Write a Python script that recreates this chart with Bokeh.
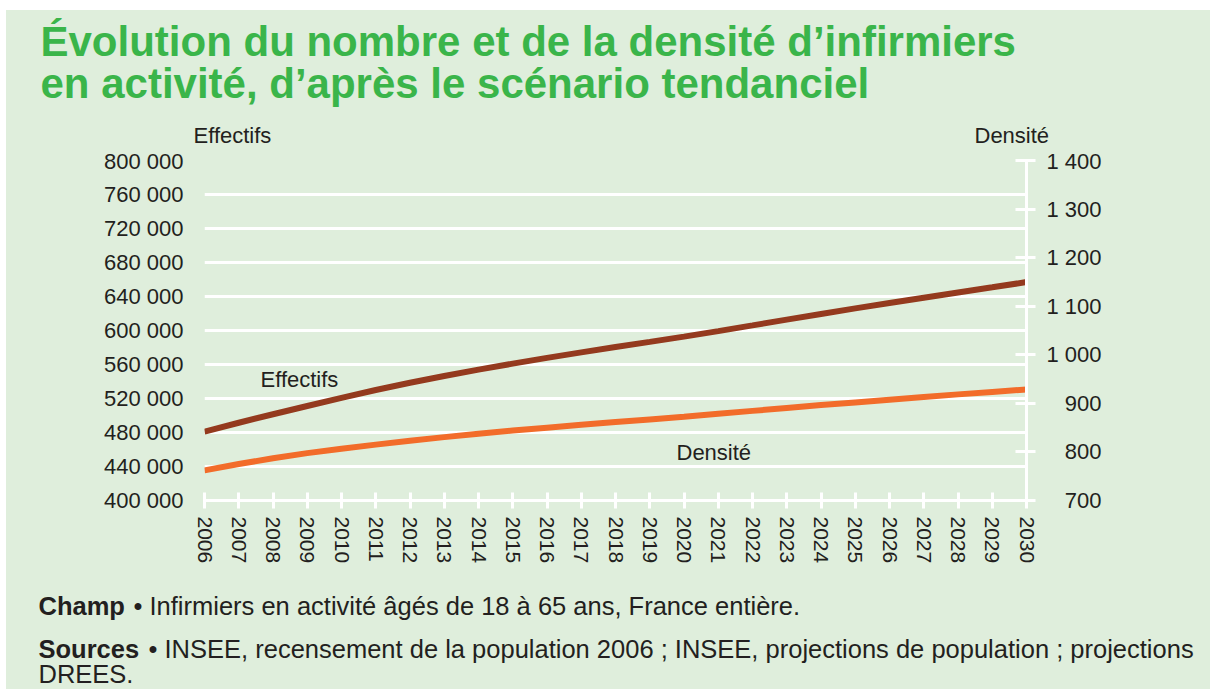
from bokeh.plotting import figure
from bokeh.layouts import column
from bokeh.models import (LinearAxis, Range1d, SingleIntervalTicker, CustomJSTickFormatter, Label)
from bokeh.core.properties import value
from bokeh.embed import file_html
from bokeh.resources import INLINE

# ---- data ----
years = list(range(2006, 2031))
effectifs = [481000, 491500, 501500, 511200, 520800, 530000, 538500, 546500, 554000,
             561000, 567800, 574300, 580500, 586600, 592800, 599300, 606000, 612800,
             619500, 626000, 632300, 638500, 644700, 650800, 657000]
densite = [762, 775, 787, 797.5, 806.5, 815, 823, 830.5, 837.5, 844, 850, 856, 861.5,
           867, 872.5, 878.5, 884.5, 890.5, 896.5, 902, 907.5, 913, 918.5, 923.5, 928.5]
left_ticks = (400000, 800000, 40000)
right_ticks = (700, 1400, 100)
title_lines = ["Évolution du nombre et de la densité d’infirmiers",
               "en activité, d’après le scénario tendanciel"]
left_title = "Effectifs"
right_title = "Densité"
series_names = ["Effectifs", "Densité"]
note_champ = ("Champ", "• Infirmiers en activité âgés de 18 à 65 ans, France entière.")
note_sources = ("Sources", "• INSEE, recensement de la population 2006 ; INSEE, projections de population ; projections")
note_sources2 = "DREES."

BG = "#dfeedc"
TXT = "#231f20"
GREEN = "#3ab54a"
C_EFF = "#943a1e"
C_DEN = "#f26c2a"
FONT = "Liberation Sans"

OX, OY = 6, 10          # page position of the green panel
W = 1204
H_TOP, H_MAIN, H_FOOT = 138, 432, 109
BASE_K = 0.4            # baseline correction (fraction of font size)


def no_align(f):
    try:
        f.frame_align = False
    except Exception:
        pass


def text_panel(h):
    f = figure(width=W, height=h, output_backend="svg", toolbar_location=None,
               x_range=Range1d(0, W), y_range=Range1d(h, 0),
               x_axis_type=None, y_axis_type=None, min_border=0,
               background_fill_color=BG, border_fill_color=BG, outline_line_color=None)
    f.grid.visible = False
    no_align(f)
    return f


def put(f, top, texts, xs, ys, size, color=TXT, bold=False):
    f.text(x=[x - OX for x in xs], y=[y - top - BASE_K * size for y in ys], text=texts,
           text_font=value(FONT), text_font_size=value(f"{size}px"), text_color=color,
           text_font_style="bold" if bold else "normal",
           text_baseline="alphabetic", text_align="left")

# ---------- top panel: title and axis titles ----------
top = text_panel(H_TOP)
t0 = OY
put(top, t0, title_lines, [40, 40], [58, 100], 42, color=GREEN, bold=True)
put(top, t0, [left_title, right_title], [193, 974], [144, 144], 22)

# ---------- main chart ----------
FL, FR, FT, FB = 204, 1026, 160, 500   # frame edges in page pixels
m0 = OY + H_TOP
p = figure(width=W, height=H_MAIN, output_backend="svg", toolbar_location=None,
           x_range=Range1d(years[0], years[-1]),
           y_range=Range1d(left_ticks[0], left_ticks[1]),
           min_border_left=FL - OX, min_border_right=OX + W - FR,
           min_border_top=FT - m0, min_border_bottom=m0 + H_MAIN - FB,
           background_fill_color=BG, border_fill_color=BG, outline_line_color=None)
no_align(p)
p.extra_y_ranges = {"dens": Range1d(right_ticks[0], right_ticks[1])}

fmt = CustomJSTickFormatter(code="return tick.toFixed(0).replace(/\\B(?=(\\d{3})+(?!\\d))/g, ' ');")
fmt_r = CustomJSTickFormatter(code="""
var s = tick.toFixed(0).replace(/\\B(?=(\\d{3})+(?!\\d))/g, ' ');
return s.length < 5 ? '\\u2007 ' + s : s;""")

p.yaxis.ticker = SingleIntervalTicker(interval=left_ticks[2])
p.yaxis.formatter = fmt
p.yaxis.axis_line_color = None
p.yaxis.major_tick_line_color = None
p.yaxis.minor_tick_line_color = None
p.yaxis.major_tick_in = 0
p.yaxis.major_tick_out = 0
p.yaxis.major_label_standoff = 17
p.yaxis.major_label_text_font = FONT
p.yaxis.major_label_text_font_size = "22px"
p.yaxis.major_label_text_color = TXT

p.xaxis.ticker = SingleIntervalTicker(interval=1)
p.xaxis.major_label_orientation = "vertical"
p.xaxis.axis_line_color = "white"
p.xaxis.axis_line_width = 3
p.xaxis.major_tick_line_color = "white"
p.xaxis.major_tick_line_width = 3
p.xaxis.major_tick_in = 8
p.xaxis.major_tick_out = 8
p.xaxis.minor_tick_line_color = None
p.xaxis.major_label_standoff = 8
p.xaxis.major_label_text_font = FONT
p.xaxis.major_label_text_font_size = "21px"
p.xaxis.major_label_text_color = TXT

ra = LinearAxis(y_range_name="dens", ticker=SingleIntervalTicker(interval=right_ticks[2]),
                formatter=fmt_r)
ra.axis_line_color = "white"
ra.axis_line_width = 3
ra.major_tick_line_color = "white"
ra.major_tick_line_width = 3
ra.major_tick_in = 11
ra.major_tick_out = 9
ra.minor_tick_line_color = None
ra.major_label_standoff = 11
ra.major_label_text_font = FONT
ra.major_label_text_font_size = "22px"
ra.major_label_text_color = TXT
p.add_layout(ra, "right")

p.xgrid.grid_line_color = None
p.ygrid.grid_line_color = "white"
p.ygrid.grid_line_width = 3
p.ygrid.ticker = SingleIntervalTicker(interval=left_ticks[2])

p.line(years, effectifs, line_color=C_EFF, line_width=6)
p.line(years, densite, line_color=C_DEN, line_width=6, y_range_name="dens")

for name, px, py in [(series_names[0], 260, 388), (series_names[1], 676, 461)]:
    p.add_layout(Label(x=px - FL, y=FB - py + BASE_K * 22, x_units="screen", y_units="screen",
                       text=name, text_font=FONT, text_font_size="22px", text_color=TXT,
                       text_baseline="alphabetic", text_align="left"))

# ---------- footer ----------
f0 = OY + H_TOP + H_MAIN
foot = text_panel(H_FOOT)
put(foot, f0, [note_champ[0], note_sources[0]], [38, 38], [616, 659], 25.5, bold=True)
put(foot, f0, [note_champ[1], note_sources[1], note_sources2], [133, 148, 38],
    [616, 659, 684], 25.5)

layout = column(top, p, foot, spacing=0, margin=(OY, 0, 0, OX),
                styles={"background-color": BG})
open("out.html", "w").write(file_html(layout, INLINE))
